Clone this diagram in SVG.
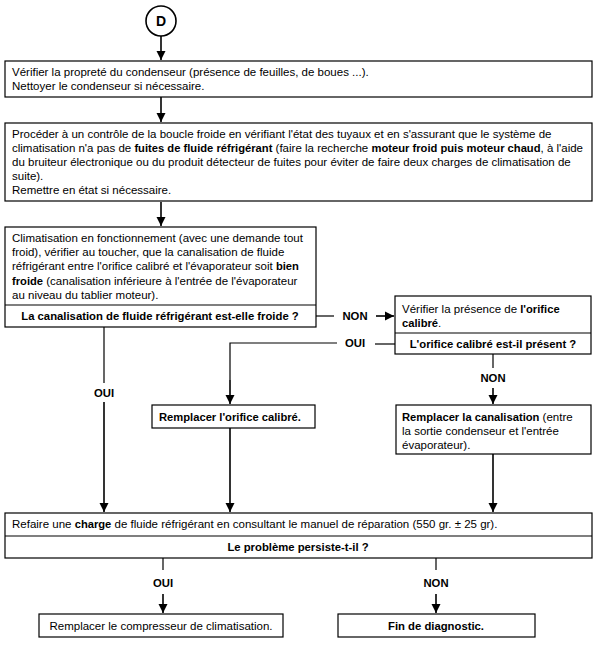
<svg xmlns="http://www.w3.org/2000/svg" width="596" height="656" viewBox="0 0 596 656">
<defs>
<marker id="ah" markerWidth="10" markerHeight="10" refX="9" refY="5" orient="auto" markerUnits="userSpaceOnUse">
<path d="M0,0.5 L9,5 L0,9.5 Z" fill="#000"/>
</marker>
<style>
text{font-family:"Liberation Sans",Arial,sans-serif;font-size:11.5px;fill:#000}
.b{font-weight:bold;font-size:11.2px}
.box{fill:#fff;stroke:#000;stroke-width:1.2}
.ln{fill:none;stroke:#000;stroke-width:1.2}
.ar{fill:none;stroke:#000;stroke-width:1.6;marker-end:url(#ah)}
.lbl{font-weight:bold;text-anchor:middle;font-size:11.3px}
.c{text-anchor:middle}
</style>
</defs>
<rect width="596" height="656" fill="#fff"/>

<g id="connectors">
<path class="ar" d="M161,36 V60"/>
<path class="ar" d="M161,97 V122"/>
<path class="ar" d="M161,202 V226"/>
<path class="ln" d="M316,316 H334"/>
<path class="ar" d="M376,316 H394"/>
<text class="lbl" x="355" y="320">NON</text>
<path class="ln" d="M395,344 H375"/>
<path class="ln" d="M337,343 H230 V380"/>
<path class="ar" d="M230,380 V404"/>
<text class="lbl" x="355" y="347">OUI</text>
<path class="ln" d="M104,327 V383"/>
<text class="lbl" x="104" y="397">OUI</text>
<path class="ar" d="M104,402 V512"/>
<path class="ar" d="M230,428 V512"/>
<path class="ln" d="M493,354 V368"/>
<text class="lbl" x="493" y="382">NON</text>
<path class="ar" d="M493,388 V404"/>
<path class="ar" d="M493,454 V512"/>
<path class="ln" d="M163,558 V570"/>
<text class="lbl" x="163" y="587">OUI</text>
<path class="ar" d="M163,594 V613"/>
<path class="ln" d="M436,558 V570"/>
<text class="lbl" x="436" y="587">NON</text>
<path class="ar" d="M436,594 V613"/>
</g>

<g id="start">
<circle cx="161" cy="21" r="15" fill="#fff" stroke="#000" stroke-width="1.6"/>
<text class="lbl" x="161" y="26" style="font-size:14px">D</text>
</g>

<g id="n1">
<rect class="box" x="5" y="61" width="587" height="36"/>
<text x="12" y="76">Vérifier la propreté du condenseur (présence de feuilles, de boues ...).</text>
<text x="12" y="90">Nettoyer le condenseur si nécessaire.</text>
</g>

<g id="n2">
<rect class="box" x="5" y="123" width="587" height="78"/>
<text x="12" y="138">Procéder à un contrôle de la boucle froide en vérifiant l'état des tuyaux et en s'assurant que le système de</text>
<text x="12" y="152">climatisation n'a pas de <tspan class="b">fuites de fluide réfrigérant</tspan> (faire la recherche <tspan class="b">moteur froid puis moteur chaud</tspan>, à l'aide</text>
<text x="12" y="166">du bruiteur électronique ou du produit détecteur de fuites pour éviter de faire deux charges de climatisation de</text>
<text x="12" y="180">suite).</text>
<text x="12" y="194">Remettre en état si nécessaire.</text>
</g>

<g id="n3">
<rect class="box" x="5" y="227" width="311" height="100"/>
<line class="ln" x1="5" y1="305" x2="316" y2="305"/>
<text x="12" y="242">Climatisation en fonctionnement (avec une demande tout</text>
<text x="12" y="256">froid), vérifier au toucher, que la canalisation de fluide</text>
<text x="12" y="270">réfrigérant entre l'orifice calibré et l'évaporateur soit <tspan class="b">bien</tspan></text>
<text x="12" y="285"><tspan class="b">froide</tspan> (canalisation inférieure à l'entrée de l'évaporateur</text>
<text x="12" y="299">au niveau du tablier moteur).</text>
<text class="lbl" x="160" y="320">La canalisation de fluide réfrigérant est-elle froide ?</text>
</g>

<g id="n4">
<rect class="box" x="395" y="296" width="196" height="58"/>
<line class="ln" x1="395" y1="333" x2="591" y2="333"/>
<text x="402" y="313">Vérifier la présence de <tspan class="b">l'orifice</tspan></text>
<text x="402" y="327"><tspan class="b">calibré</tspan>.</text>
<text class="lbl" x="493" y="348">L'orifice calibré est-il présent ?</text>
</g>

<g id="n5">
<rect class="box" x="152" y="405" width="163" height="23"/>
<text class="b" x="159" y="421">Remplacer l'orifice calibré.</text>
</g>

<g id="n6">
<rect class="box" x="396" y="405" width="195" height="49"/>
<text x="402" y="421"><tspan class="b">Remplacer la canalisation</tspan> (entre</text>
<text x="402" y="435">la sortie condenseur et l'entrée</text>
<text x="402" y="449">évaporateur).</text>
</g>

<g id="n7">
<rect class="box" x="5" y="513" width="587" height="45"/>
<line class="ln" x1="5" y1="536" x2="592" y2="536"/>
<text x="12" y="528">Refaire une <tspan class="b">charge</tspan> de fluide réfrigérant en consultant le manuel de réparation (550 gr. ± 25 gr).</text>
<text class="lbl" x="298" y="551">Le problème persiste-t-il ?</text>
</g>

<g id="n8">
<rect class="box" x="39" y="614" width="244" height="23"/>
<text class="c" x="161" y="630">Remplacer le compresseur de climatisation.</text>
</g>

<g id="n9">
<rect class="box" x="338" y="614" width="197" height="23"/>
<text class="lbl" x="436" y="630">Fin de diagnostic.</text>
</g>
</svg>
